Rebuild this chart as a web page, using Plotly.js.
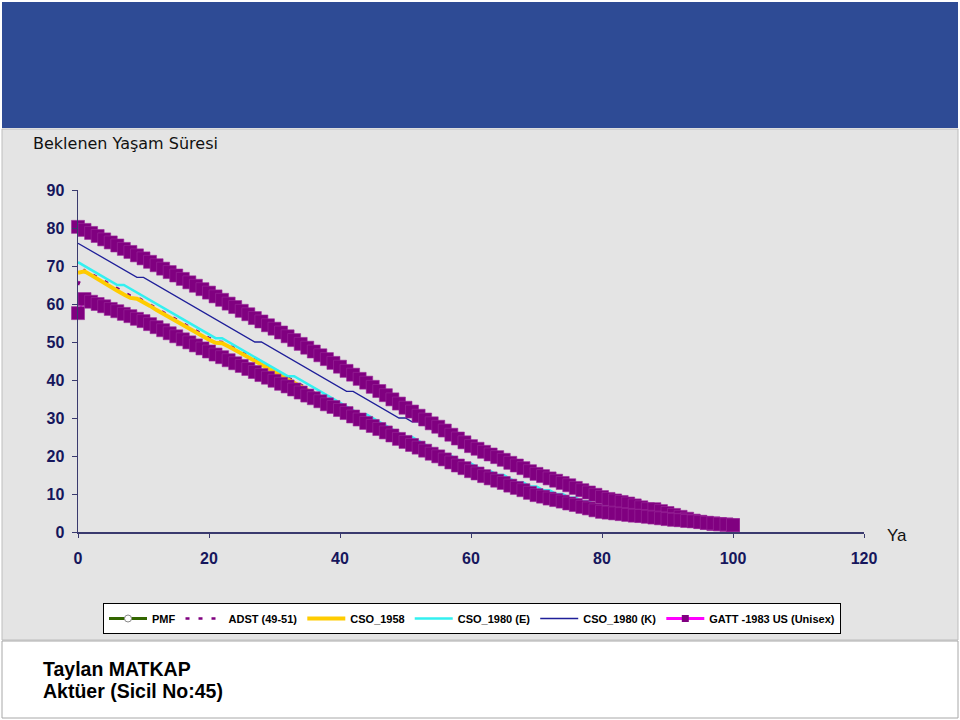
<!DOCTYPE html>
<html>
<head>
<meta charset="utf-8">
<script src="https://cdn.plot.ly/plotly-3.0.1.min.js"></script>
<style>
html,body{margin:0;padding:0;background:#ffffff;}
#chart{width:960px;height:720px;}
</style>
</head>
<body>
<div id="chart"></div>
<script>
// ---- data ----
const ages = [0,1,2,3,4,5,6,7,8,9,10,11,12,13,14,15,16,17,18,19,20,21,22,23,24,25,26,27,28,29,30,31,32,33,34,35,36,37,38,39,40,41,42,43,44,45,46,47,48,49,50,51,52,53,54,55,56,57,58,59,60,61,62,63,64,65,66,67,68,69,70,71,72,73,74,75,76,77,78,79,80,81,82,83,84,85,86,87,88,89,90,91,92,93,94,95,96,97,98,99,100];

const seriesNames = ["PMF", "ADST (49-51)", "CSO_1958", "CSO_1980 (E)", "CSO_1980 (K)", "GATT -1983 US (Unisex)"];

// PMF: present in the legend only, no points visible in the chart
const pmf = [null];

const adst = [65.0,68.9,68.0,67.0,66.0,65.0,64.0,63.0,62.2,61.8,60.9,59.9,58.9,57.9,56.9,55.9,55.0,54.0,53.0,52.1,51.1,50.2,50.0,49.2,48.3,47.4,46.5,45.6,44.6,43.7,42.7,41.7,40.8,39.8,38.8,37.8,36.9,35.9,34.9,33.9,33.0,32.0,31.1,30.1,29.2,28.3,27.4,26.5,25.6,24.7,23.9,23.0,22.2,21.4,20.6,19.8,19.0,18.2,17.5,16.8,16.1,15.4,14.7,14.0,13.4,12.8,12.2,11.6,11.0,10.5,10.0,9.5,9.0,8.5,8.1,7.7,7.3,6.9,6.5,6.2,5.8,5.5,5.2,4.9,4.6,4.3,4.0,3.7,3.4,3.2,2.9,2.7,2.5,2.3,2.1,1.9,1.7,1.5,1.3,1.1];

const cso1958 = [68.2,68.6,67.6,66.5,65.4,64.5,63.5,62.5,61.6,61.4,60.5,59.5,58.4,57.4,56.4,55.4,54.5,53.5,52.5,51.6,50.6,49.8,49.7,48.8,47.9,47.0,46.0,45.1,44.1,43.1,42.2,41.2,40.3,39.3,38.3,37.3,36.4,35.4,34.4,33.4,32.5,31.5,30.6,29.6,28.7,27.8,26.9,26.0,25.1,24.3,23.4,22.6,21.8,21.0,20.2,19.4,18.6,17.8,17.1,16.4,15.7,15.0,14.3,13.6,13.0,12.4,11.8,11.2,10.6,10.1,9.6,9.1,8.6,8.1,7.7,7.3,6.9,6.5,6.1,5.8,5.4,5.1,4.8,4.5,4.2,3.9,3.6,3.3,3.0,2.8,2.5,2.3,2.1,1.9,1.7,1.5,1.3,1.1,0.9,0.7];

const cso1980E = [71,70,69,68,67,66,65,65,64,63,62,61,60,59,58,57,56,55,54,53,52,51,51,50,49,48,47,46,45,44,43,42,41,41,40,39,38,37,36,35,34,33,32,31,31,30,29,28,27,26,25,25,24,23,22,21,20,20,19,18,18,17,16,16,15,15,14,13,13,12,12,11,11,10,10,9,9,8,8,7,7,6,6,6,5,5,5,4,4,4,3,3,3,3,2,2,2,2,1,1];

const cso1980K = [76,75,74,73,72,71,70,69,68,67,67,66,65,64,63,62,61,60,59,58,57,56,55,54,53,52,51,50,50,49,48,47,46,45,44,43,42,41,40,39,38,37,37,36,35,34,33,32,31,30,30,29,29,28,27,27,26,25,24,23,22,21,20,20,19,18,18,17,16,16,15,14,14,13,12,12,11,11,10,10,9,9,8,8,8,7,7,6,6,6,5,5,5,4,4,4,3,3,3,2];

// GATT -1983 US: two bands of square markers
const gattUpper = [80.3,79.5,78.7,77.9,77.0,76.2,75.4,74.5,73.7,72.8,72.0,71.1,70.2,69.3,68.4,67.5,66.6,65.7,64.8,63.9,63.0,62.0,61.1,60.1,59.2,58.2,57.3,56.3,55.4,54.4,53.5,52.5,51.5,50.5,49.5,48.5,47.5,46.5,45.5,44.5,43.5,42.4,41.4,40.3,39.3,38.2,37.1,36.0,34.9,33.8,32.7,31.7,30.6,29.6,28.6,27.7,26.7,25.6,24.6,23.6,22.6,21.9,21.1,20.4,19.7,19.0,18.2,17.5,16.8,16.0,15.3,14.7,14.1,13.5,12.9,12.3,11.6,11.0,10.4,9.8,9.2,8.7,8.3,7.9,7.5,7.0,6.5,6.0,6.0,5.5,5.0,4.5,4.0,3.5,3.0,2.7,2.4,2.1,2.0,1.9,1.8];

const gattLower = [57.6,61.3,60.6,60.0,59.4,58.7,58.1,57.4,56.8,56.1,55.5,54.7,53.9,53.1,52.3,51.5,50.7,49.9,49.1,48.3,47.5,46.7,46.0,45.2,44.4,43.7,42.9,42.1,41.3,40.6,39.8,39.0,38.3,37.5,36.7,35.9,35.2,34.4,33.6,32.9,32.1,31.3,30.4,29.6,28.7,27.9,27.1,26.2,25.4,24.5,23.7,22.9,22.2,21.4,20.6,19.9,19.1,18.3,17.5,16.8,16.0,15.4,14.7,14.1,13.5,12.9,12.2,11.6,11.0,10.3,9.7,9.3,8.8,8.4,8.0,7.5,7.1,6.6,6.2,5.7,5.3,5.1,4.9,4.7,4.5,4.3,4.2,4.0,3.8,3.6,3.4,3.2,3.1,2.9,2.8,2.6,2.4,2.3,2.1,2.0,1.8];

const xTicks = [0,20,40,60,80,100,120];
const yTicks = [0,10,20,30,40,50,60,70,80,90];

const chartTitle = "Beklenen Yaşam Süresi";
const xAxisLabel = "Ya";
const footer1 = "Taylan MATKAP";
const footer2 = "Aktüer (Sicil No:45)";

// ---- geometry helpers (pixel -> paper) ----
const L = 78, R = 96, T = 190, B = 188;
const PW = 960 - L - R, PH = 720 - T - B;
const px = v => (v - L) / PW;
const py = v => (720 - B - v) / PH;

const GATT_PURPLE = '#800080';

const traces = [
  {name: seriesNames[0], x: [null], y: pmf, mode: 'lines+markers',
   line: {color: '#336600', width: 3},
   marker: {symbol: 'circle', size: 7, color: '#ffffff', line: {color: '#888888', width: 1}}},
  {name: seriesNames[1], x: ages, y: adst, mode: 'lines',
   line: {color: '#800080', width: 2.5, dash: '4px,9px'}},
  {name: seriesNames[2], x: ages, y: cso1958, mode: 'lines',
   line: {color: '#ffcc00', width: 4}},
  {name: seriesNames[3], x: ages, y: cso1980E, mode: 'lines',
   line: {color: '#33f0f0', width: 2.5}},
  {name: seriesNames[4], x: ages, y: cso1980K, mode: 'lines',
   line: {color: '#1f1f99', width: 1.3}},
  {name: seriesNames[5], x: [null], y: [null], mode: 'lines+markers',
   line: {color: '#ff00ff', width: 3},
   marker: {symbol: 'square', size: 7, color: GATT_PURPLE}},
  {name: seriesNames[5], x: ages, y: gattUpper, mode: 'lines+markers', showlegend: false, cliponaxis: false,
   line: {color: '#ff00ff', width: 2},
   marker: {symbol: 'square', size: 13, color: GATT_PURPLE, line: {color: '#9a2a9a', width: 0.6}}},
  {name: seriesNames[5], x: ages, y: gattLower, mode: 'lines+markers', showlegend: false, cliponaxis: false,
   line: {color: '#ff00ff', width: 2},
   marker: {symbol: 'square', size: 13, color: GATT_PURPLE, line: {color: '#9a2a9a', width: 0.6}}}
];

const tickFont = {family: 'Liberation Sans, Arial, sans-serif', size: 16, color: '#16165c', weight: 'bold'};

const layout = {
  width: 960, height: 720,
  margin: {l: L, r: R, t: T, b: B, pad: 0},
  paper_bgcolor: '#ffffff',
  plot_bgcolor: 'rgba(0,0,0,0)',
  showlegend: true,
  title: {text: chartTitle, x: 33/960, xanchor: 'left', y: 1 - 143/720, yanchor: 'middle',
          font: {family: 'DejaVu Sans, Verdana, sans-serif', size: 16, color: '#111111'}},
  xaxis: {range: [0, 120], tickvals: xTicks, ticktext: xTicks.map(String),
          showgrid: false, zeroline: false, showline: true, linecolor: '#3a3a6e', linewidth: 1.5,
          ticks: 'outside', ticklen: 4, tickcolor: '#3a3a6e', tickwidth: 1,
          tickfont: tickFont, ticklabelstandoff: 7, fixedrange: true},
  yaxis: {range: [0, 90], tickvals: yTicks, ticktext: yTicks.map(String),
          showgrid: false, zeroline: false, showline: true, linecolor: '#3a3a6e', linewidth: 1.5,
          ticks: 'outside', ticklen: 5, tickcolor: '#3a3a6e', tickwidth: 1,
          tickfont: tickFont, ticklabelstandoff: 4, fixedrange: true},
  legend: {orientation: 'h', x: px(103), xanchor: 'left', y: py(603), yanchor: 'top',
           bgcolor: '#ffffff', bordercolor: '#000000', borderwidth: 1,
           font: {family: 'Liberation Sans, Arial, sans-serif', size: 11, color: '#000000', weight: 'bold'},
           itemwidth: 38, tracegroupgap: 0},
  shapes: [
    {type: 'rect', xref: 'paper', yref: 'paper', layer: 'below',
     x0: px(2), x1: px(958), y0: py(640), y1: py(129),
     fillcolor: '#e4e4e4', line: {color: '#bdbdbd', width: 1}},
    {type: 'rect', xref: 'paper', yref: 'paper', layer: 'below',
     x0: px(2), x1: px(958), y0: py(128), y1: py(2),
     fillcolor: '#2e4b95', line: {width: 0}},
    {type: 'rect', xref: 'paper', yref: 'paper', layer: 'below',
     x0: px(2), x1: px(958), y0: py(718), y1: py(641),
     fillcolor: '#ffffff', line: {color: '#a8a8a8', width: 1}}
  ],
  annotations: [
    {text: xAxisLabel, xref: 'paper', yref: 'paper', x: px(885), y: py(535), xanchor: 'left', yanchor: 'middle',
     showarrow: false, font: {family: 'Liberation Sans, Arial, sans-serif', size: 17, color: '#111111'}},
    {text: footer1, xref: 'paper', yref: 'paper', x: px(41), y: py(669), xanchor: 'left', yanchor: 'middle',
     showarrow: false, font: {family: 'Liberation Sans, Arial, sans-serif', size: 19.5, color: '#000000', weight: 'bold'}},
    {text: footer2, xref: 'paper', yref: 'paper', x: px(41), y: py(691), xanchor: 'left', yanchor: 'middle',
     showarrow: false, font: {family: 'Liberation Sans, Arial, sans-serif', size: 19.5, color: '#000000', weight: 'bold'}}
  ]
};

Plotly.newPlot('chart', traces, layout, {displayModeBar: false, staticPlot: true});
</script>
</body>
</html>
